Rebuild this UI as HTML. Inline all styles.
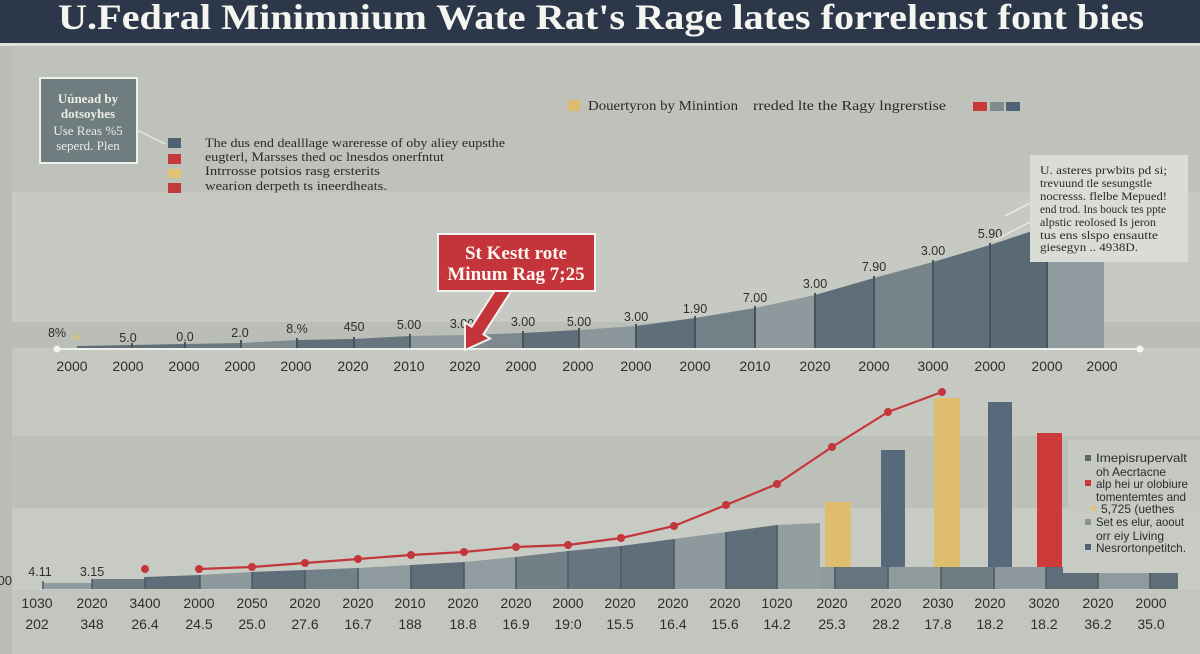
<!DOCTYPE html>
<html><head><meta charset="utf-8">
<style>
html,body{margin:0;padding:0;background:#c2c6be;}
svg{display:block;}
.ax{font-family:"Liberation Sans",sans-serif;font-size:14px;fill:#2e2e2e;text-anchor:middle;}
.vl{font-family:"Liberation Sans",sans-serif;font-size:12.5px;fill:#2e2e2e;text-anchor:middle;}
.sf{font-family:"Liberation Serif",serif;fill:#2a2a2a;}
.lg{font-family:"Liberation Sans",sans-serif;font-size:12px;fill:#2b2b2b;}
</style></head>
<body>
<svg width="1200" height="654" viewBox="0 0 1200 654" xmlns="http://www.w3.org/2000/svg">
<!-- backgrounds -->
<rect x="0" y="0" width="1200" height="654" fill="#c2c6be"/>
<rect x="0" y="46" width="1200" height="146" fill="#bec2ba"/>
<rect x="12" y="192" width="1188" height="130" fill="#c6cac2"/>
<rect x="12" y="322" width="1188" height="26" fill="#babeb6"/>
<rect x="12" y="348" width="1188" height="88" fill="#c5c9c1"/>
<rect x="12" y="436" width="1188" height="72" fill="#bcc0b8"/>
<rect x="12" y="508" width="1188" height="82" fill="#c7cbc3"/>
<rect x="0" y="46" width="12" height="608" fill="#b9bdb5"/>
<rect x="1068" y="440" width="132" height="140" fill="#c7cbc4" opacity="0.8"/>

<!-- header -->
<rect x="0" y="0" width="1200" height="43" fill="#2c3749"/>
<rect x="0" y="43" width="1200" height="3" fill="#dde1dc"/>
<text x="58" y="29" font-family="Liberation Serif, serif" font-weight="bold" font-size="36" fill="#f4f4f0" textLength="1086" lengthAdjust="spacingAndGlyphs">U.Fedral Minimnium Wate Rat's Rage lates forrelenst font bies</text>

<!-- left box -->
<line x1="137" y1="130" x2="165" y2="144" stroke="#e6e8e4" stroke-width="1.5"/>
<rect x="40" y="78" width="97" height="85" fill="#6f7c80" stroke="#eef0ea" stroke-width="2"/>
<g font-family="Liberation Serif, serif" font-size="13" fill="#ecece4" text-anchor="middle">
<text x="88" y="103" font-weight="bold">Uúnead by</text>
<text x="88" y="118" font-weight="bold">dotsoyhes</text>
<text x="88" y="135">Use Reas %5</text>
<text x="88" y="150">seperd. Plen</text>
</g>

<!-- left legend -->
<rect x="168" y="138" width="13" height="10" fill="#4f6272"/>
<rect x="168" y="154" width="13" height="10" fill="#c23a3c"/>
<rect x="168" y="169" width="13" height="9" fill="#e3c274"/>
<rect x="168" y="183" width="13" height="10" fill="#c23a3c"/>
<g class="sf" font-size="13">
<text x="205" y="147" textLength="300" lengthAdjust="spacingAndGlyphs">The dus end dealllage wareresse of oby aliey eupsthe</text>
<text x="205" y="161" textLength="239" lengthAdjust="spacingAndGlyphs">eugterl, Marsses thed oc lnesdos onerfntut</text>
<text x="205" y="175" textLength="175" lengthAdjust="spacingAndGlyphs">Intrrosse potsios rasg ersterits</text>
<text x="205" y="190" textLength="182" lengthAdjust="spacingAndGlyphs">wearion derpeth ts ineerdheats.</text>
</g>

<!-- top legend -->
<rect x="568" y="100" width="12" height="11" fill="#dcbb6c"/>
<g class="sf" font-size="14">
<text x="588" y="110" textLength="150" lengthAdjust="spacingAndGlyphs">Douertyron by Minintion</text>
<text x="753" y="110" textLength="193" lengthAdjust="spacingAndGlyphs">rreded lte the Ragy lngrerstise</text>
</g>
<rect x="973" y="102" width="14" height="9" fill="#c9393c"/>
<rect x="990" y="102" width="14" height="9" fill="#7f8c8c"/>
<rect x="1006" y="102" width="14" height="9" fill="#4f6374"/>

<!-- top area chart segments -->
<g stroke="none">
<polygon points="77,349 77,346 132,345 132,349" fill="#5f6d76"/>
<polygon points="132,349 132,345 185,344 185,349" fill="#5f6d76"/>
<polygon points="185,349 185,344 241,343 241,349" fill="#6b787f"/>
<polygon points="241,349 241,343 297,340 297,349" fill="#7f8b8f"/>
<polygon points="297,349 297,340 354,339 354,349" fill="#5f6e78"/>
<polygon points="354,349 354,339 410,336 410,349" fill="#66757e"/>
<polygon points="410,349 410,336 465,335 465,349" fill="#8d999c"/>
<polygon points="465,349 465,335 523,333 523,349" fill="#7d898e"/>
<polygon points="523,349 523,333 579,330 579,349" fill="#5f6e78"/>
<polygon points="579,349 579,330 636,326 636,349" fill="#8a9699"/>
<polygon points="636,349 636,326 695,318 695,349" fill="#5f6f79"/>
<polygon points="695,349 695,318 755,308 755,349" fill="#728188"/>
<polygon points="755,349 755,308 815,295 815,349" fill="#8d999c"/>
<polygon points="815,349 815,295 874,278 874,349" fill="#5e6e79"/>
<polygon points="874,349 874,278 933,262 933,349" fill="#768489"/>
<polygon points="933,349 933,262 990,245 990,349" fill="#5f6f7a"/>
<polygon points="990,349 990,245 1047,226 1047,349" fill="#5a6a75"/>
<polygon points="1047,349 1047,226 1104,208 1104,349" fill="#8f9b9e"/>
</g>
<g stroke="#47535d" stroke-width="2">
<line x1="132" y1="349" x2="132" y2="343"/>
<line x1="185" y1="349" x2="185" y2="342"/>
<line x1="241" y1="349" x2="241" y2="340"/>
<line x1="297" y1="349" x2="297" y2="338"/>
<line x1="354" y1="349" x2="354" y2="337"/>
<line x1="410" y1="349" x2="410" y2="334"/>
<line x1="465" y1="349" x2="465" y2="333"/>
<line x1="523" y1="349" x2="523" y2="331"/>
<line x1="579" y1="349" x2="579" y2="328"/>
<line x1="636" y1="349" x2="636" y2="324"/>
<line x1="695" y1="349" x2="695" y2="316"/>
<line x1="755" y1="349" x2="755" y2="306"/>
<line x1="815" y1="349" x2="815" y2="293"/>
<line x1="874" y1="349" x2="874" y2="276"/>
<line x1="933" y1="349" x2="933" y2="260"/>
<line x1="990" y1="349" x2="990" y2="243"/>
<line x1="1047" y1="349" x2="1047" y2="262"/>
</g>
<line x1="57" y1="349" x2="1140" y2="349" stroke="#eef0ec" stroke-width="2"/>
<circle cx="57" cy="349" r="3.5" fill="#f4f4f0"/>
<circle cx="1140" cy="349" r="3.5" fill="#f4f4f0"/>
<circle cx="77" cy="337" r="2.5" fill="#d6c27c"/>

<!-- top value labels -->
<g class="vl">
<text x="57" y="337">8%</text>
<text x="128" y="342">5.0</text>
<text x="185" y="341">0.0</text>
<text x="240" y="337">2.0</text>
<text x="297" y="333">8.%</text>
<text x="354" y="331">450</text>
<text x="409" y="329">5.00</text>
<text x="462" y="328">3.00</text>
<text x="523" y="326">3.00</text>
<text x="579" y="326">5.00</text>
<text x="636" y="321">3.00</text>
<text x="695" y="313">1.90</text>
<text x="755" y="302">7.00</text>
<text x="815" y="288">3.00</text>
<text x="874" y="271">7.90</text>
<text x="933" y="255">3.00</text>
<text x="990" y="238">5.90</text>
</g>

<!-- top axis labels -->
<g class="ax">
<text x="72" y="371">2000</text>
<text x="128" y="371">2000</text>
<text x="184" y="371">2000</text>
<text x="240" y="371">2000</text>
<text x="296" y="371">2000</text>
<text x="353" y="371">2020</text>
<text x="409" y="371">2010</text>
<text x="465" y="371">2020</text>
<text x="521" y="371">2000</text>
<text x="578" y="371">2000</text>
<text x="636" y="371">2000</text>
<text x="695" y="371">2000</text>
<text x="755" y="371">2010</text>
<text x="815" y="371">2020</text>
<text x="874" y="371">2000</text>
<text x="933" y="371">3000</text>
<text x="990" y="371">2000</text>
<text x="1047" y="371">2000</text>
<text x="1102" y="371">2000</text>
</g>

<!-- callout arrow -->
<polygon points="515.9,283.8 483.4,334.3 490.1,338.6 465,350 464.9,322.4 471.6,326.7 504.1,276.2" fill="#c4343a" stroke="#f2f2ee" stroke-width="2" stroke-linejoin="miter"/>
<rect x="438" y="234" width="157" height="57" fill="#c4343a" stroke="#f2f2ee" stroke-width="2"/>
<g font-family="Liberation Serif, serif" font-weight="bold" font-size="19" fill="#fbf6f0" text-anchor="middle">
<text x="516" y="259">St Kestt rote</text>
<text x="516" y="280">Minum Rag 7;25</text>
</g>

<!-- top right box -->
<line x1="1030" y1="203" x2="1005" y2="216" stroke="#e8ebe6" stroke-width="1.5"/>
<line x1="1030" y1="222" x2="995" y2="240" stroke="#e8ebe6" stroke-width="1.5"/>
<rect x="1030" y="155" width="158" height="107" fill="#dadcd6"/>
<g class="sf" font-size="12">
<text x="1040" y="174" textLength="127" lengthAdjust="spacingAndGlyphs">U. asteres prwbits pd si;</text>
<text x="1040" y="187" textLength="112" lengthAdjust="spacingAndGlyphs">trevuund tle sesungstle</text>
<text x="1040" y="200" textLength="127" lengthAdjust="spacingAndGlyphs">nocresss. flelbe Mepued!</text>
<text x="1040" y="213" textLength="126" lengthAdjust="spacingAndGlyphs">end trod. Ins bouck tes ppte</text>
<text x="1040" y="226" textLength="116" lengthAdjust="spacingAndGlyphs">alpstic reolosed Is jeron</text>
<text x="1040" y="239" textLength="118" lengthAdjust="spacingAndGlyphs">tus ens slspo ensautte</text>
<text x="1040" y="251" textLength="98" lengthAdjust="spacingAndGlyphs">giesegyn .. 4938D.</text>
</g>

<!-- bottom area chart -->
<g stroke="none">
<polygon points="43,589 43,583 92,583 92,589" fill="#8f9b9e"/>
<polygon points="92,589 92,579 145,579 145,589" fill="#6f7d85"/>
<polygon points="145,589 145,577 200,575 200,589" fill="#5e6e79"/>
<polygon points="200,589 200,575 252,572 252,589" fill="#8d999c"/>
<polygon points="252,589 252,572 305,570 305,589" fill="#5f6f7a"/>
<polygon points="305,589 305,570 358,568 358,589" fill="#728087"/>
<polygon points="358,589 358,568 411,565 411,589" fill="#8e9a9d"/>
<polygon points="411,589 411,565 464,562 464,589" fill="#5e6e79"/>
<polygon points="464,589 464,562 516,557 516,589" fill="#909c9f"/>
<polygon points="516,589 516,557 568,551 568,589" fill="#737f86"/>
<polygon points="568,589 568,551 621,546 621,589" fill="#66757e"/>
<polygon points="621,589 621,546 674,539 674,589" fill="#5f6e78"/>
<polygon points="674,589 674,539 726,532 726,589" fill="#8d999c"/>
<polygon points="726,589 726,532 777,525 777,589" fill="#5f6f79"/>
<polygon points="777,589 777,525 820,523 820,589" fill="#939ea0"/>
<rect x="820" y="567" width="15" height="22" fill="#8e9a9d"/>
<rect x="835" y="567" width="53" height="22" fill="#66747d"/>
<rect x="888" y="567" width="53" height="22" fill="#909b9e"/>
<rect x="941" y="567" width="53" height="22" fill="#6d7b83"/>
<rect x="994" y="567" width="52" height="22" fill="#8c989b"/>
<rect x="1046" y="567" width="17" height="22" fill="#5e6e79"/>
<rect x="1063" y="573" width="35" height="16" fill="#5e6e79"/>
<rect x="1098" y="573" width="52" height="16" fill="#8e9a9d"/>
<rect x="1150" y="573" width="28" height="16" fill="#5e6e79"/>
</g>
<g stroke="#4b5761" stroke-width="1.5">
<line x1="43" y1="589" x2="43" y2="581"/>
<line x1="92" y1="589" x2="92" y2="579"/>
<line x1="145" y1="589" x2="145" y2="577"/>
<line x1="200" y1="589" x2="200" y2="575"/>
<line x1="252" y1="589" x2="252" y2="572"/>
<line x1="305" y1="589" x2="305" y2="570"/>
<line x1="358" y1="589" x2="358" y2="568"/>
<line x1="411" y1="589" x2="411" y2="565"/>
<line x1="464" y1="589" x2="464" y2="562"/>
<line x1="516" y1="589" x2="516" y2="557"/>
<line x1="568" y1="589" x2="568" y2="551"/>
<line x1="621" y1="589" x2="621" y2="546"/>
<line x1="674" y1="589" x2="674" y2="539"/>
<line x1="726" y1="589" x2="726" y2="532"/>
<line x1="777" y1="589" x2="777" y2="525"/>
<line x1="835" y1="589" x2="835" y2="567"/>
<line x1="888" y1="589" x2="888" y2="567"/>
<line x1="941" y1="589" x2="941" y2="567"/>
<line x1="994" y1="589" x2="994" y2="567"/>
<line x1="1046" y1="589" x2="1046" y2="567"/>
<line x1="1098" y1="589" x2="1098" y2="573"/>
<line x1="1150" y1="589" x2="1150" y2="573"/>
</g>

<!-- bars -->
<rect x="825" y="502" width="26" height="65" fill="#dfbd6f"/>
<rect x="881" y="450" width="24" height="117" fill="#566a7b"/>
<rect x="934" y="398" width="26" height="169" fill="#dfbd6f"/>
<rect x="988" y="402" width="24" height="165" fill="#566a7b"/>
<rect x="1037" y="433" width="25" height="134" fill="#cc3a3a"/>

<!-- red line -->
<polyline points="199,569 252,567 305,563 358,559 411,555 464,552 516,547 568,545 621,538 674,526 726,505 777,484 832,447 888,412 942,392" fill="none" stroke="#c4363a" stroke-width="2.2" stroke-linejoin="round"/>
<g fill="#c4363a">
<circle cx="145" cy="569" r="4"/>
<circle cx="199" cy="569" r="4"/>
<circle cx="252" cy="567" r="4"/>
<circle cx="305" cy="563" r="4"/>
<circle cx="358" cy="559" r="4"/>
<circle cx="411" cy="555" r="4"/>
<circle cx="464" cy="552" r="4"/>
<circle cx="516" cy="547" r="4"/>
<circle cx="568" cy="545" r="4"/>
<circle cx="621" cy="538" r="4"/>
<circle cx="674" cy="526" r="4"/>
<circle cx="726" cy="505" r="4"/>
<circle cx="777" cy="484" r="4"/>
<circle cx="832" cy="447" r="4"/>
<circle cx="888" cy="412" r="4"/>
<circle cx="942" cy="392" r="4"/>
</g>

<!-- bottom value labels -->
<g class="vl">
<text x="40" y="576">4.11</text>
<text x="92" y="576">3.15</text>
</g>
<text x="12" y="585" font-family="Liberation Sans, sans-serif" font-size="13" fill="#2e2e2e" text-anchor="end">900</text>

<!-- bottom axis labels -->
<g class="ax" font-size="14.5">
<text x="37" y="608">1030</text>
<text x="92" y="608">2020</text>
<text x="145" y="608">3400</text>
<text x="199" y="608">2000</text>
<text x="252" y="608">2050</text>
<text x="305" y="608">2020</text>
<text x="358" y="608">2020</text>
<text x="410" y="608">2010</text>
<text x="463" y="608">2020</text>
<text x="516" y="608">2020</text>
<text x="568" y="608">2000</text>
<text x="620" y="608">2020</text>
<text x="673" y="608">2020</text>
<text x="725" y="608">2020</text>
<text x="777" y="608">1020</text>
<text x="832" y="608">2020</text>
<text x="886" y="608">2020</text>
<text x="938" y="608">2030</text>
<text x="990" y="608">2020</text>
<text x="1044" y="608">3020</text>
<text x="1098" y="608">2020</text>
<text x="1151" y="608">2000</text>

<text x="37" y="629">202</text>
<text x="92" y="629">348</text>
<text x="145" y="629">26.4</text>
<text x="199" y="629">24.5</text>
<text x="252" y="629">25.0</text>
<text x="305" y="629">27.6</text>
<text x="358" y="629">16.7</text>
<text x="410" y="629">188</text>
<text x="463" y="629">18.8</text>
<text x="516" y="629">16.9</text>
<text x="568" y="629">19:0</text>
<text x="620" y="629">15.5</text>
<text x="673" y="629">16.4</text>
<text x="725" y="629">15.6</text>
<text x="777" y="629">14.2</text>
<text x="832" y="629">25.3</text>
<text x="886" y="629">28.2</text>
<text x="938" y="629">17.8</text>
<text x="990" y="629">18.2</text>
<text x="1044" y="629">18.2</text>
<text x="1098" y="629">36.2</text>
<text x="1151" y="629">35.0</text>
</g>

<!-- right legend -->
<rect x="1085" y="455" width="6" height="6" fill="#5a6870"/>
<rect x="1085" y="480" width="6" height="6" fill="#c83a3c"/>
<rect x="1091" y="506" width="5" height="5" fill="#e0c27a"/>
<rect x="1085" y="519" width="6" height="6" fill="#8a9591"/>
<rect x="1085" y="544" width="6" height="6" fill="#4f6575"/>
<g class="lg">
<text x="1096" y="462" textLength="91" lengthAdjust="spacingAndGlyphs">Imepisrupervalt</text>
<text x="1096" y="476">oh Aecrtacne</text>
<text x="1096" y="488" textLength="92" lengthAdjust="spacingAndGlyphs">alp hei ur olobiure</text>
<text x="1096" y="501" textLength="90" lengthAdjust="spacingAndGlyphs">tomentemtes and</text>
<text x="1101" y="513">5,725 (uethes</text>
<text x="1096" y="526" textLength="88" lengthAdjust="spacingAndGlyphs">Set es elur, aoout</text>
<text x="1096" y="540">orr eiy Living</text>
<text x="1096" y="552" textLength="90" lengthAdjust="spacingAndGlyphs">Nesrortonpetitch.</text>
</g>
</svg>
</body></html>
